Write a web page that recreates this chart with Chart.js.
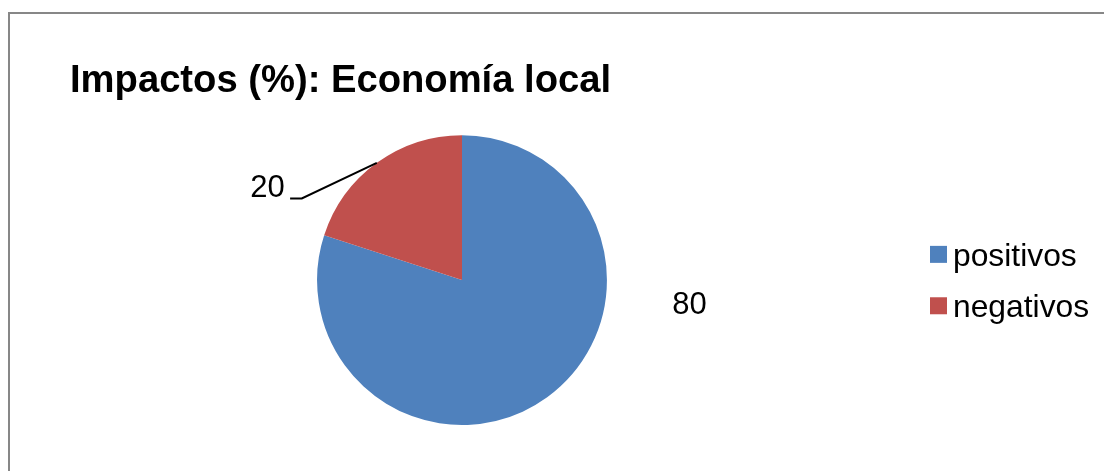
<!DOCTYPE html>
<html>
<head>
<meta charset="utf-8">
<script src="https://cdn.jsdelivr.net/npm/chart.js@4/dist/chart.umd.min.js"></script>
<style>
  html, body { margin: 0; padding: 0; background: #ffffff; overflow: hidden; }
  #wrap { position: relative; width: 1104px; height: 471px; }
  #frame { position: absolute; left: 8px; top: 12px; width: 1200px; height: 600px; border: 2px solid #878787; box-sizing: border-box; }
  canvas { position: absolute; left: 0; top: 0; }
</style>
</head>
<body>
<div id="wrap">
  <div id="frame"></div>
  <canvas id="c" width="1104" height="471"></canvas>
</div>
<script>
const titleText = 'Impactos (%): Economía local';
const categories = ['positivos', 'negativos'];
const values = [80, 20];
const sliceColors = ['#4F81BD', '#C0504D'];

const FONT = '"Liberation Sans", Arial, Helvetica, sans-serif';

// label placement, in units of the pie radius, relative to the pie centre
const labelPlacement = [
  { tx: 1.570, ty: 0.2366, align: 'center', leader: null },
  { tx: -1.2234, ty: -0.5745, align: 'right', leader: { ex: -1.1055, ey: -0.5634, hx: -1.186 } }
];

const dataLabels = {
  id: 'dataLabels',
  afterDatasetsDraw(chart) {
    const ctx = chart.ctx;
    const meta = chart.getDatasetMeta(0);
    ctx.save();
    ctx.font = '31px ' + FONT;
    ctx.fillStyle = '#000';
    ctx.textBaseline = 'alphabetic';
    meta.data.forEach((arc, i) => {
      const p = arc.getProps(['x', 'y', 'startAngle', 'endAngle', 'outerRadius'], true);
      const r = p.outerRadius;
      const pl = labelPlacement[i];
      if (pl.leader) {
        const mid = (p.startAngle + p.endAngle) / 2;
        const ax = p.x + Math.cos(mid) * r;
        const ay = p.y + Math.sin(mid) * r;
        ctx.beginPath();
        ctx.strokeStyle = '#000';
        ctx.lineWidth = 2;
        ctx.moveTo(ax, ay);
        ctx.lineTo(p.x + pl.leader.ex * r, p.y + pl.leader.ey * r);
        ctx.lineTo(p.x + pl.leader.hx * r, p.y + pl.leader.ey * r);
        ctx.stroke();
      }
      ctx.textAlign = pl.align;
      ctx.fillText(String(chart.data.datasets[0].data[i]), p.x + pl.tx * r, p.y + pl.ty * r);
    });
    ctx.restore();
  }
};

const sideLegend = {
  id: 'sideLegend',
  afterDraw(chart) {
    const ctx = chart.ctx;
    const area = chart.chartArea;
    const cy = (area.top + area.bottom) / 2;
    const n = chart.data.labels.length;
    const step = 51.4;
    const x0 = 930;
    const sq = 17;
    ctx.save();
    ctx.font = '31.8px ' + FONT;
    ctx.textAlign = 'left';
    ctx.textBaseline = 'alphabetic';
    chart.data.labels.forEach((lab, i) => {
      const yc = cy + (i - (n - 1) / 2) * step;
      ctx.fillStyle = chart.data.datasets[0].backgroundColor[i];
      ctx.fillRect(x0, yc - sq / 2, sq, sq);
      ctx.fillStyle = '#000';
      ctx.fillText(lab, x0 + 23, yc + 11.2);
    });
    ctx.restore();
  }
};

new Chart(document.getElementById('c'), {
  type: 'pie',
  data: {
    labels: categories,
    datasets: [{
      data: values,
      backgroundColor: sliceColors,
      borderWidth: 0,
      hoverOffset: 0,
      offset: 0
    }]
  },
  options: {
    responsive: false,
    devicePixelRatio: 1,
    animation: false,
    events: [],
    layout: { padding: { left: 70, right: 250, top: 0, bottom: 46 } },
    plugins: {
      legend: { display: false },
      tooltip: { enabled: false },
      title: {
        display: true,
        text: titleText,
        align: 'start',
        color: '#000',
        font: { family: FONT, size: 38.2, weight: 'bold', lineHeight: 1.2 },
        padding: { top: 58.3, bottom: 31.0 }
      }
    }
  },
  plugins: [dataLabels, sideLegend]
});
</script>
</body>
</html>
